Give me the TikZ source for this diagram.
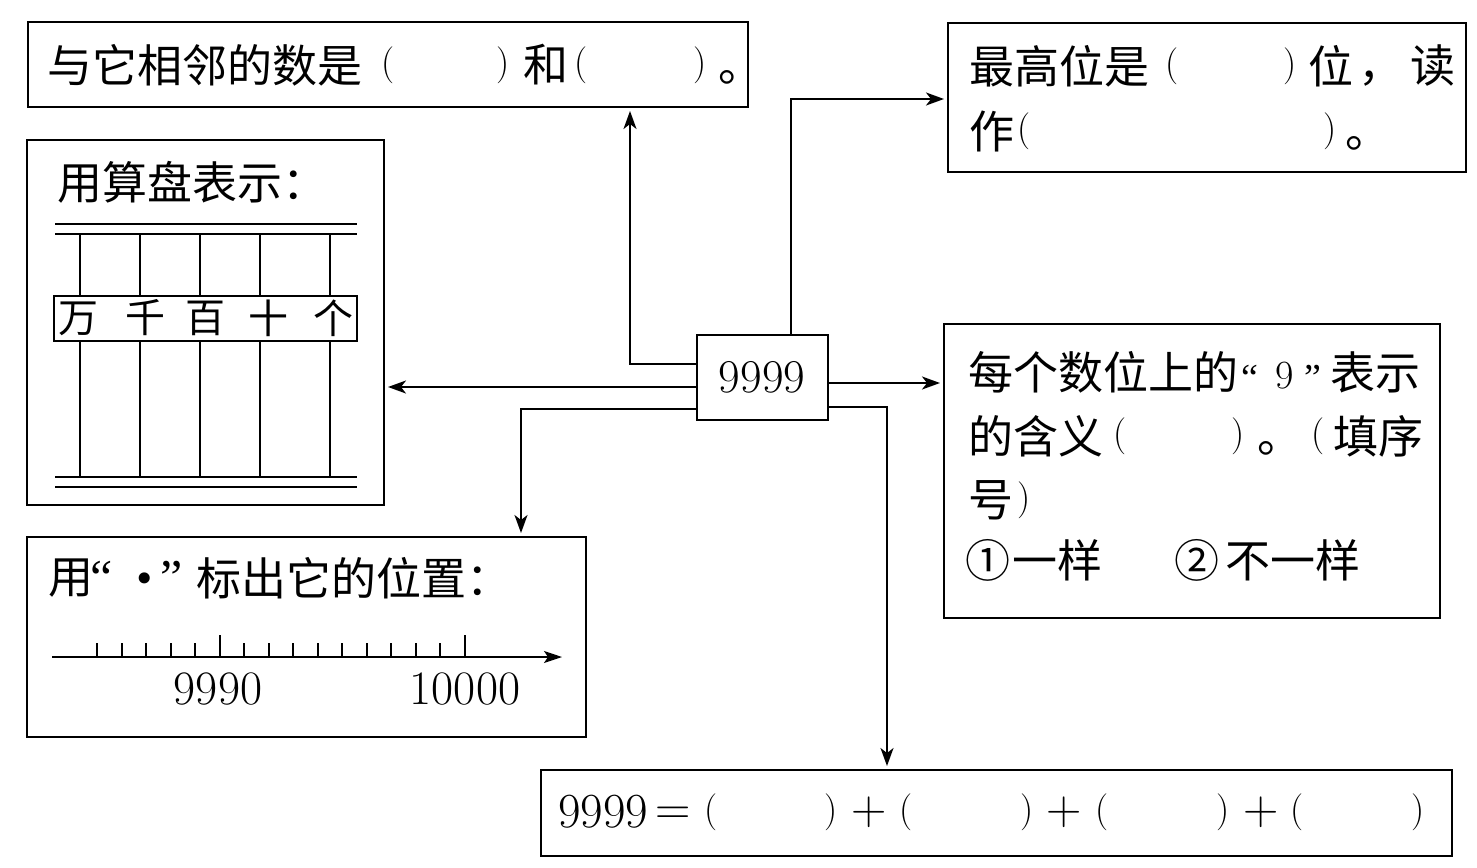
\documentclass[tikz,border=0pt]{standalone}
\usepackage{fontspec}
\newfontfamily\cjk{Noto Sans CJK SC}
\newfontfamily\dv{DejaVu Sans}
\newfontfamily\lser{Liberation Serif}
\usetikzlibrary{arrows.meta}
\begin{document}
\begin{tikzpicture}[x=1pt,y=-1pt,
  bx/.style={draw, line width=2pt, inner sep=0pt},
  cj/.style={font=\cjk\fontsize{45}{50}\selectfont, inner sep=0pt, anchor=west, execute at begin node=\vphantom{国}},
  cjs/.style={font=\cjk\fontsize{40}{46}\selectfont, inner sep=0pt, anchor=center, execute at begin node=\vphantom{国}},
  pa/.style={font=\fontsize{37}{40}\selectfont, inner sep=0pt},
  dg/.style={font=\fontsize{49}{55}\selectfont, inner sep=0pt},
  qt/.style={font=\lser\fontsize{38}{42}\selectfont, inner sep=0pt, anchor=north},
  qtb/.style={font=\lser\fontsize{50}{54}\selectfont, inner sep=0pt, anchor=north},
  arr/.style={line width=2pt, -{Stealth[length=18pt,width=13pt,inset=5pt]}, shorten >=3pt},
  rul/.style={line width=1.8pt}
]
\useasboundingbox (0,0) rectangle (1477,867);

% boxes
\node[bx, minimum width=720pt, minimum height=85pt] (tl) at (388,64.5) {};
\node[bx, minimum width=518pt, minimum height=149pt] (tr) at (1207,97.5) {};
\node[bx, minimum width=357pt, minimum height=365pt] (ab) at (205.5,322.5) {};
\node[bx, minimum width=559pt, minimum height=200pt] (nl) at (306.5,637) {};
\node[bx, minimum width=496pt, minimum height=294pt] (rm) at (1192,471) {};
\node[bx, minimum width=911pt, minimum height=86pt] (bt) at (996.5,813) {};
\node[bx, minimum width=131pt, minimum height=85pt] (c) at (762.5,377.5) {};
\node[dg, font=\fontsize{47}{52}\selectfont] (cnum) at (762,377) {9999};

% connectors
\draw[arr] (c.west |- 0,364) -| (tl.south -| 630,0);
\draw[arr] (c.north -| 791,0) |- (tr.west |- 0,99);
\draw[arr] (c.west |- 0,387) -- (ab.east |- 0,387);
\draw[arr] (c.west |- 0,409) -| (nl.north -| 521,0);
\draw[arr] (c.east |- 0,383) -- (rm.west |- 0,383);
\draw[arr] (c.east |- 0,407) -| (bt.north -| 887,0);

% top-left text
\node[cj] (tla) at (47,65) {与它相邻的数是};
\node[pa] (tlb) at (388,65) {(};
\node[pa] (tlc) at (503,65) {)};
\node[cj] (tld) at (523,65) {和};
\node[pa] (tle) at (581,65) {(};
\node[pa] (tlf) at (700,65) {)};
\node[cj] (tlg) at (718,65) {。};

% top-right text
\node[cj] (tra) at (969,66) {最高位是};
\node[pa] (trb) at (1172,66) {(};
\node[pa] (trc) at (1290,66) {)};
\node[cj] (trd) at (1308,66) {位};
\node[cj] (tre) at (1358,66) {，};
\node[cj] (trf) at (1410,66) {读};
\node[cj] (trg) at (969,131) {作};
\node[pa] (trh) at (1024,131) {(};
\node[pa] (tri) at (1330,131) {)};
\node[cj] (trj) at (1345,131) {。};

% abacus
\node[cj] (aba) at (57,182) {用算盘表示：};
\draw[rul] (55,224) -- (357,224);
\draw[rul] (55,234) -- (357,234);
\draw[rul] (55,477) -- (357,477);
\draw[rul] (55,487) -- (357,487);
\foreach \x in {80,140,200,260,330} {
  \draw[rul] (\x,234) -- (\x,296);
  \draw[rul] (\x,341) -- (\x,477);
}
\draw[rul] (54,296) rectangle (357,341);
\node[cjs] (abw) at (78,318) {万};
\node[cjs] (abq) at (145,318) {千};
\node[cjs] (abb) at (205,318) {百};
\node[cjs] (abs) at (268,318) {十};
\node[cjs] (abg) at (333,318) {个};

% number line
\node[cj] (nla) at (48,578) {用};
\node[qtb] (nlb) at (102,561) {“};
\node[font=\dv\fontsize{38}{42}\selectfont, inner sep=0pt] (nlc) at (145,583) {•};
\node[qtb] (nld) at (172,561) {”};
\node[cj] (nle) at (196,578) {标出它的位置：};
\draw[line width=1.8pt, -{Stealth[length=18pt,width=12pt,inset=4pt]}] (52,657) -- (562,657);
\foreach \k in {0,...,15} {
  \pgfmathsetmacro{\xx}{97.2+24.5*\k}
  \ifnum\k=5 \draw[rul] (\xx,657) -- (\xx,635);
  \else\ifnum\k=15 \draw[rul] (\xx,657) -- (\xx,635);
  \else \draw[rul] (\xx,657) -- (\xx,643); \fi\fi
}
\node[dg, font=\fontsize{48}{52}\selectfont] (nlf) at (218,689) {9990};
\node[dg, font=\fontsize{48}{52}\selectfont] (nlg) at (465,689) {10000};

% right middle text
\node[cj] (rma) at (968,372) {每个数位上的};
\node[qt] (rmb) at (1250,365) {“};
\node[font=\fontsize{40}{44}\selectfont, inner sep=0pt, anchor=south] (rmc) at (1285,389) {9};
\node[qt] (rmd) at (1313,365) {”};
\node[cj] (rme) at (1330,372) {表示};
\node[cj] (rmf) at (968,436) {的含义};
\node[pa] (rmg) at (1120,436) {(};
\node[pa] (rmh) at (1238,436) {)};
\node[cj] (rmi) at (1257,436) {。};
\node[pa] (rmj) at (1318,436) {(};
\node[cj] (rmk) at (1333,436) {填序};
\node[cj] (rml) at (968,500) {号};
\node[pa] (rmm) at (1024,500) {)};
\node[cj, anchor=center] (rmn) at (988,560) {①};
\node[cj] (rmo) at (1012,560) {一样};
\node[cj, anchor=center] (rmp) at (1197,560) {②};
\node[cj] (rmq) at (1225,560) {不一样};

% bottom text
\node[dg] (bta) at (603,812) {9999};
\node[dg] (btb) at (673,812) {\vphantom{+}=};
\node[pa] (btc) at (711,812) {(};
\node[pa] (btd) at (831,812) {)};
\node[dg] (bte) at (869,812) {+};
\node[pa] (btf) at (906,812) {(};
\node[pa] (btg) at (1027,812) {)};
\node[dg] (bth) at (1064,812) {+};
\node[pa] (bti) at (1102,812) {(};
\node[pa] (btj) at (1223,812) {)};
\node[dg] (btk) at (1261,812) {+};
\node[pa] (btl) at (1297,812) {(};
\node[pa] (btm) at (1418,812) {)};
\end{tikzpicture}
\end{document}
